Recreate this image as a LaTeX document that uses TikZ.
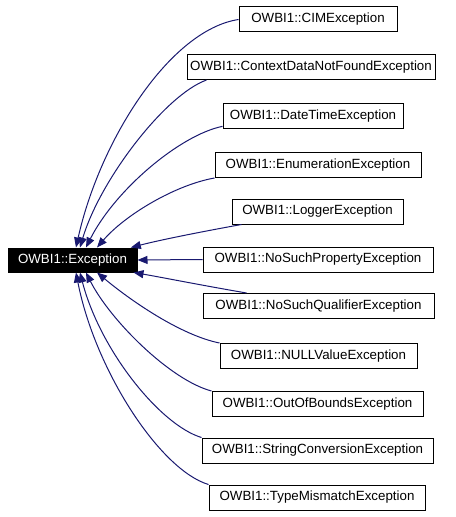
\documentclass[tikz,border=0pt]{standalone}
\usepackage{fontspec}
\setmainfont{Liberation Sans}
\usetikzlibrary{arrows.meta}
\definecolor{edgeblue}{HTML}{191970}
\begin{document}
\begin{tikzpicture}[x=0.75pt,y=-0.75pt,
  cls/.style={draw=black,line width=0.75pt,fill=white,inner sep=0pt,minimum height=18.75pt,font=\fontsize{10pt}{12pt}\selectfont},
  basecls/.style={draw=black,line width=0.75pt,fill=black,text=white,inner sep=0pt,minimum height=18pt,minimum width=96.75pt,font=\fontsize{10pt}{12pt}\selectfont},
  inh/.style={draw=edgeblue,line width=0.75pt,-{Triangle[length=7.5pt,width=6pt]},fill=none},
]
\useasboundingbox (0,0) rectangle (456,517);
\node[basecls] (main) at (72.5,260) {OWBI1::Exception};
\node[cls,minimum width=118.5pt] (cim) at (318,19.5) {OWBI1::CIMException};
\node[cls,minimum width=186pt] (ctx) at (311,67) {OWBI1::ContextDataNotFoundException};
\node[cls,minimum width=135pt] (dt) at (313,116) {OWBI1::DateTimeException};
\node[cls,minimum width=154.5pt] (en) at (318,165) {OWBI1::EnumerationException};
\node[cls,minimum width=128.25pt] (lg) at (317.5,211.5) {OWBI1::LoggerException};
\node[cls,minimum width=172.5pt] (nsp) at (318,259.5) {OWBI1::NoSuchPropertyException};
\node[cls,minimum width=173.25pt] (nsq) at (318.5,306) {OWBI1::NoSuchQualifierException};
\node[cls,minimum width=147.75pt] (nv) at (318.5,356) {OWBI1::NULLValueException};
\node[cls,minimum width=158.25pt] (oob) at (317.5,404) {OWBI1::OutOfBoundsException};
\node[cls,minimum width=173.25pt] (sc) at (317.5,450.5) {OWBI1::StringConversionException};
\node[cls,minimum width=162pt] (tm) at (317,497.5) {OWBI1::TypeMismatchException};

\draw[inh] (cim.west) .. controls (170,30) and (100,140) .. ([xshift=2.6pt]main.north);
\draw[inh] ([xshift=15pt]ctx.south west) .. controls (165,95) and (100,180) .. ([xshift=5.6pt]main.north);
\draw[inh] ([yshift=2pt]dt.south west) .. controls (180,135) and (115,190) .. ([xshift=10.1pt]main.north);
\draw[inh] (en.south west) .. controls (175,185) and (125,215) .. ([xshift=18.4pt]main.north);
\draw[inh] ([xshift=7.5pt]lg.south west) .. controls (200,232) and (160,240) .. ([xshift=-5pt]main.north east);
\draw[inh] (nsp.west) -- (main.east);
\draw[inh] ([xshift=33pt]nsq.north west) .. controls (200,285) and (160,277) .. ([xshift=-3pt]main.south east);
\draw[inh] (nv.north west) .. controls (180,335) and (130,300) .. ([xshift=18.4pt]main.south);
\draw[inh] (oob.north west) .. controls (170,380) and (110,320) .. ([xshift=10.1pt]main.south);
\draw[inh] (sc.north west) .. controls (160,425) and (100,350) .. ([xshift=5.6pt]main.south);
\draw[inh] (tm.north west) .. controls (160,470) and (95,370) .. ([xshift=2.6pt]main.south);
\end{tikzpicture}
\end{document}
